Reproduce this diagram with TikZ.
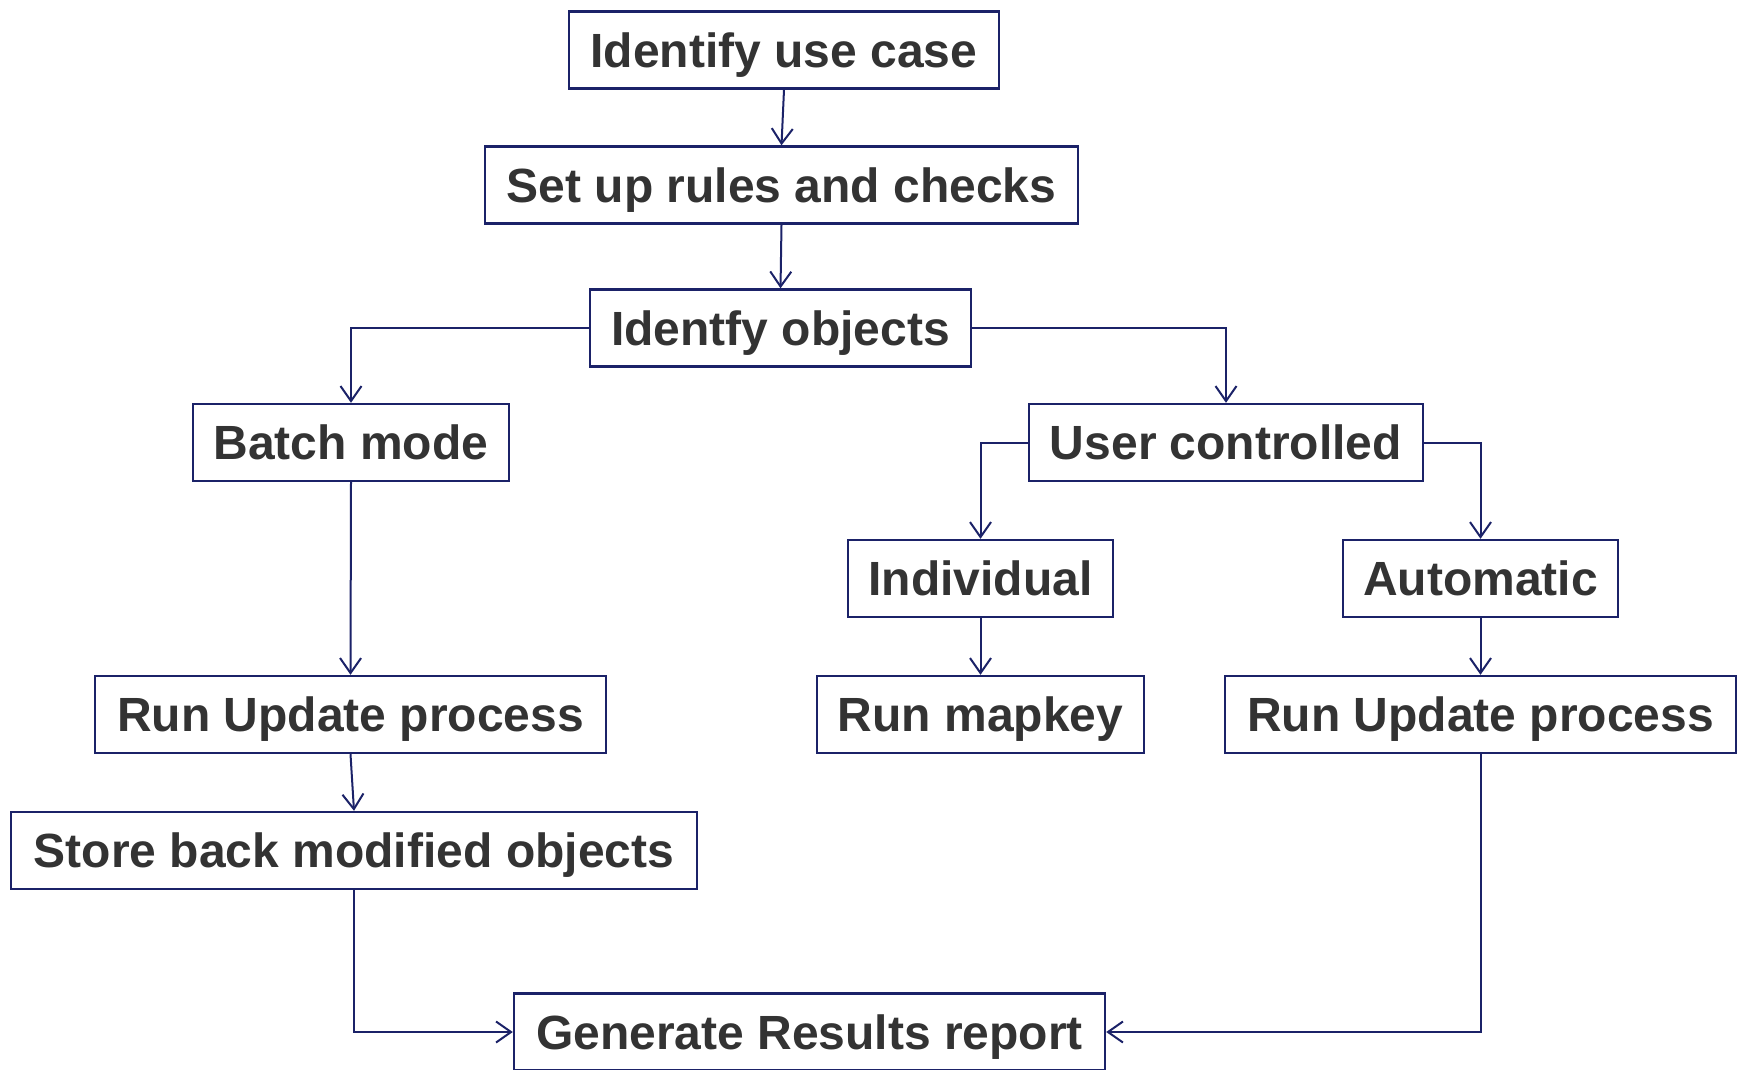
\documentclass[tikz,border=0pt]{standalone}
\usepackage{fontspec}
\setmainfont{Liberation Sans}
\usetikzlibrary{arrows.meta}
\definecolor{navy}{HTML}{1B2268}
\definecolor{txt}{HTML}{333333}
\begin{document}
\begin{tikzpicture}[x=1pt,y=-1pt,
  box/.style={draw=navy,line width=2.4pt,fill=white,minimum height=77pt,inner sep=0pt,
    text height=34.4pt,text depth=0pt,
    font=\fontsize{48}{56}\selectfont\bfseries,text=txt},
  conn/.style={draw=navy,line width=2pt,-{Straight Barb[length=15pt,width=21pt,line width=2pt]}}]
\useasboundingbox (0,0) rectangle (1740,1069);
\node[box,minimum width=430pt] (uc) at (784,50) {Identify use case};
\node[box,minimum width=593pt] (rules) at (781.5,185) {Set up rules and checks};
\node[box,minimum width=381pt] (obj) at (780.5,328) {Identfy objects};
\node[box,minimum width=316pt] (batch) at (351,442.5) {Batch mode};
\node[box,minimum width=394pt] (user) at (1226,442.5) {User controlled};
\node[box,minimum width=265pt] (indiv) at (980.5,578.5) {Individual};
\node[box,minimum width=275pt] (auto) at (1480.5,578.5) {Automatic};
\node[box,minimum width=511pt] (runL) at (350.5,714.5) {Run Update process};
\node[box,minimum width=327pt] (mapkey) at (980.5,714.5) {Run mapkey};
\node[box,minimum width=511pt] (runR) at (1480.5,714.5) {Run Update process};
\node[box,minimum width=686pt] (store) at (354,850.5) {Store back modified objects};
\node[box,minimum width=591pt] (gen) at (809.5,1032) {Generate Results report};
\draw[conn] (uc.south) -- (rules.north);
\draw[conn] (rules.south) -- (obj.north);
\draw[conn] (obj.west) -| (batch.north);
\draw[conn] (obj.east) -| (user.north);
\draw[conn] (user.west) -| (indiv.north);
\draw[conn] (user.east) -| (auto.north);
\draw[conn] (batch.south) -- (runL.north);
\draw[conn] (indiv.south) -- (mapkey.north);
\draw[conn] (auto.south) -- (runR.north);
\draw[conn] (runL.south) -- (store.north);
\draw[conn] (store.south) |- (gen.west);
\draw[conn] (runR.south) |- (gen.east);
\end{tikzpicture}
\end{document}
